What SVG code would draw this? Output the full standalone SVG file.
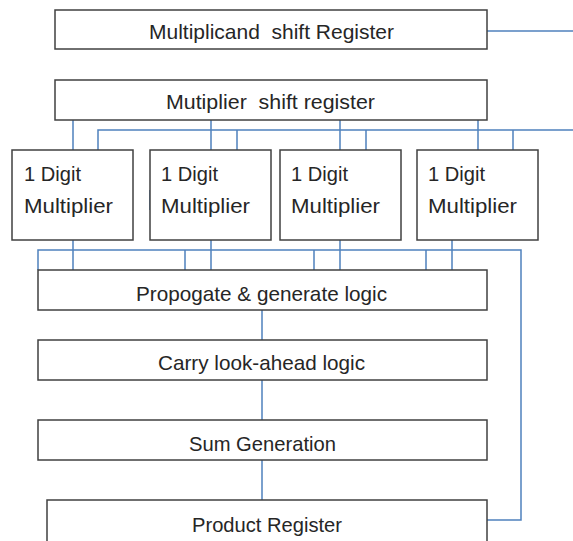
<svg xmlns="http://www.w3.org/2000/svg" width="573" height="541" viewBox="0 0 573 541">
<style>
.box{fill:#fff;stroke:#404040;stroke-width:1.5}
.t{font-family:"Liberation Sans",Arial,sans-serif;font-size:21px;fill:#262626;white-space:pre}
.w{fill:none;stroke:#4f81bd;stroke-width:1.5}
</style>
<rect width="573" height="541" fill="#fff"/>
<g id="connectors">
<path class="w" d="M487 31H573"/>
<path class="w" d="M73 120V150M211 120V150M340 120V150M478 120V150"/>
<path class="w" d="M98 150V130H573M237 130V150M366 130V150M513 130V150"/>
<path class="w" d="M150 190V210"/>
<path class="w" d="M73 240V270M211 240V270M340 240V270M452 240V270"/>
<path class="w" d="M38 270V250H521V520H487M185 250V270M314 250V270M426 250V270"/>
<path class="w" d="M262 310V340M262 380V420M262 460V500"/>
</g>
<g id="multiplicand"><rect class="box" x="55" y="10" width="432" height="39"/><text class="t" x="149" y="39" textLength="245" lengthAdjust="spacingAndGlyphs">Multiplicand  shift Register</text></g>
<g id="multiplier"><rect class="box" x="55" y="80" width="432" height="40"/><text class="t" x="166" y="109" textLength="209" lengthAdjust="spacingAndGlyphs">Mutiplier  shift register</text></g>
<g id="digit1"><rect class="box" x="12" y="150" width="121" height="90"/><text class="t" x="24" y="181" textLength="57" lengthAdjust="spacingAndGlyphs">1 Digit</text><text class="t" x="24" y="213" textLength="89" lengthAdjust="spacingAndGlyphs">Multiplier</text></g>
<g id="digit2"><rect class="box" x="150" y="150" width="121" height="90"/><text class="t" x="161" y="181" textLength="57" lengthAdjust="spacingAndGlyphs">1 Digit</text><text class="t" x="161" y="213" textLength="89" lengthAdjust="spacingAndGlyphs">Multiplier</text></g>
<g id="digit3"><rect class="box" x="280" y="150" width="121" height="90"/><text class="t" x="291" y="181" textLength="57" lengthAdjust="spacingAndGlyphs">1 Digit</text><text class="t" x="291" y="213" textLength="89" lengthAdjust="spacingAndGlyphs">Multiplier</text></g>
<g id="digit4"><rect class="box" x="417" y="150" width="121" height="90"/><text class="t" x="428" y="181" textLength="57" lengthAdjust="spacingAndGlyphs">1 Digit</text><text class="t" x="428" y="213" textLength="89" lengthAdjust="spacingAndGlyphs">Multiplier</text></g>
<g id="propagate"><rect class="box" x="38" y="270" width="449" height="40"/><text class="t" x="136" y="301" textLength="251" lengthAdjust="spacingAndGlyphs">Propogate &amp; generate logic</text></g>
<g id="carry"><rect class="box" x="38" y="340" width="449" height="40"/><text class="t" x="158" y="370" textLength="207" lengthAdjust="spacingAndGlyphs">Carry look-ahead logic</text></g>
<g id="sum"><rect class="box" x="38" y="420" width="449" height="40"/><text class="t" x="189" y="451" textLength="147" lengthAdjust="spacingAndGlyphs">Sum Generation</text></g>
<g id="product"><rect class="box" x="47" y="500" width="440" height="45"/><text class="t" x="192" y="532" textLength="150" lengthAdjust="spacingAndGlyphs">Product Register</text></g>
</svg>
